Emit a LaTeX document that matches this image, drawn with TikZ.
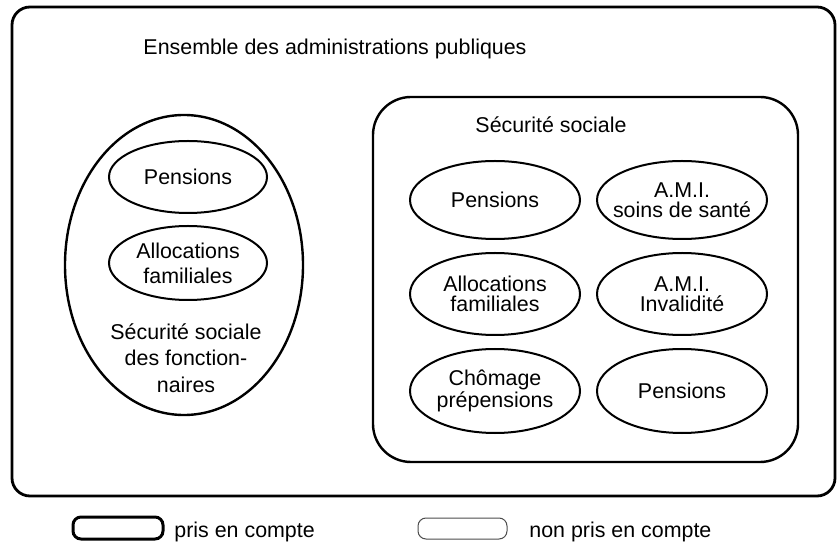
\documentclass[tikz,border=0pt]{standalone}
\usepackage{fontspec}
\setmainfont{Liberation Sans}
\usetikzlibrary{shapes.geometric}
\tikzset{
  adminbox/.style={draw=black, line width=1.4pt, rounded corners=9pt},
  ssbox/.style={draw=black, line width=1.2pt, rounded corners=19pt},
  fonctbox/.style={ellipse, draw=black, line width=1.2pt, minimum width=119pt, minimum height=150pt, inner sep=0pt},
  regime/.style={ellipse, draw=black, line width=1pt, minimum width=85pt, minimum height=39pt, inner xsep=-4.5pt, inner ysep=0pt, align=center, font=\fontsize{10.7}{10}\selectfont},
  regimel/.style={regime, minimum width=79pt, minimum height=36pt, font=\fontsize{10.7}{12.5}\selectfont},
  label/.style={inner sep=0pt, font=\fontsize{10.7}{13.3}\selectfont},
  legon/.style={draw=black, line width=1.5pt, rounded corners=4pt, minimum width=45pt, minimum height=11pt, inner sep=0pt},
  legoff/.style={draw=black!70, line width=0.5pt, rounded corners=4pt, minimum width=44.5pt, minimum height=10.5pt, inner sep=0pt}
}

\begin{document}
\begin{tikzpicture}[x=0.5pt, y=-0.5pt]
    \useasboundingbox (0,0) rectangle (839,544);

    % Ensemble des administrations publiques
    \draw [adminbox] (12,7) rectangle (835,496);
    \node (apu) [label, anchor=base] at (335,55) {Ensemble des administrations publiques};

    % Fonctionnaires
    \node (fonct) [fonctbox] at (184,265) {};
    \node (fpens) [regimel] at (188,177) {Pensions};
    \node (falloc) [regimel, minimum height=37pt] at (188,263) {Allocations\\familiales};
    \node (ftxt) [label, align=center] at (186,358) {S\'ecurit\'e sociale\\des fonction-\\naires};

    % Securite sociale
    \draw [ssbox] (373,97) rectangle (798,462);
    \node (ss) [label, anchor=base] at (551,133) {S\'ecurit\'e sociale};

    \node (pens) [regime] at (495,200) {Pensions};
    \node (alloc) [regime, minimum height=41pt] at (495,294) {Allocations\\familiales};
    \node (chom) [regime, minimum height=42pt] at (495,391) {Ch\^omage\\pr\'epensions};

    \node (amisoins) [regime] at (682,200) {A.M.I.\\soins de sant\'e};
    \node (amiinv) [regime, minimum height=41pt] at (682,294) {A.M.I.\\Invalidit\'e};
    \node (pens2) [regime, minimum height=42pt] at (682,391) {Pensions};

    % Legende
    \node (leg1) [legon] at (118,528) {};
    \node (leg1txt) [label, anchor=base west] at (174,537) {pris en compte};
    \node (leg2) [legoff] at (462.5,528.5) {};
    \node (leg2txt) [label, anchor=base west] at (529,537) {non pris en compte};

\end{tikzpicture}
\end{document}
